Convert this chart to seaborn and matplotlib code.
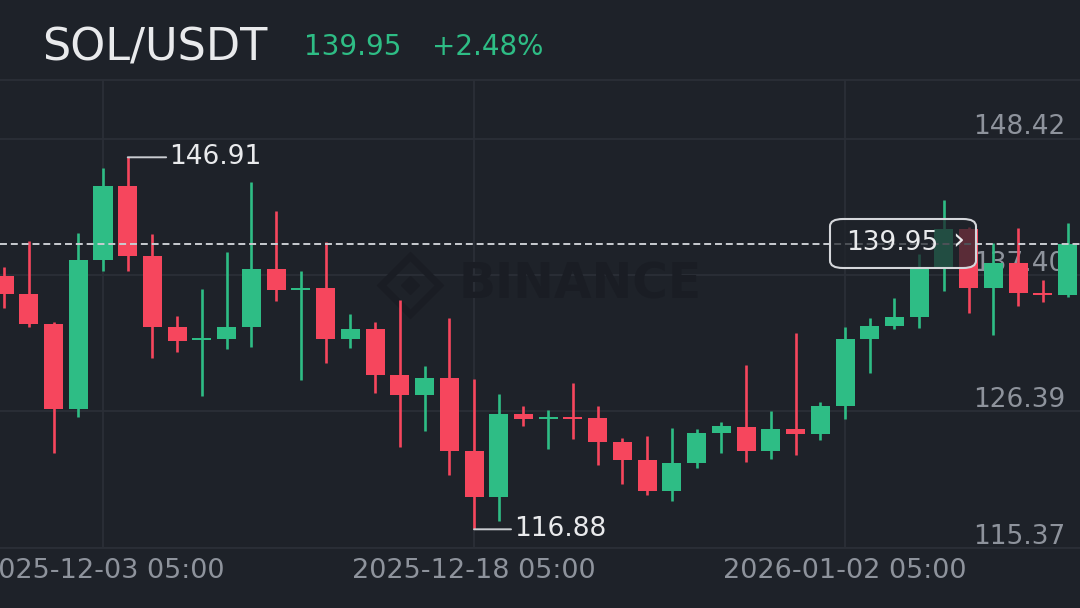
import matplotlib
matplotlib.use("Agg")
import numpy as np
import pandas as pd
import matplotlib.pyplot as plt
import matplotlib.dates as mdates
import matplotlib.transforms as mtransforms
from matplotlib.patches import FancyBboxPatch
import seaborn as sns

# ---------------- data ----------------
symbol = "SOL/USDT"
last_price = 139.95
change_text = "+2.48%"
high_price = 146.91
low_price = 116.88

dates = pd.date_range("2025-11-29 05:00", periods=44, freq="D")
opens = [137.33, 135.88, 133.45, 126.59, 138.62, 144.60, 138.94, 133.21, 132.20, 132.24,
         133.21, 137.90, 136.20, 136.36, 132.24, 133.05, 129.34, 127.72, 129.09, 123.20,
         119.49, 126.19, 125.80, 125.90, 125.87, 123.93, 122.47, 119.97, 122.23, 124.65,
         125.14, 123.20, 124.98, 124.57, 126.83, 132.24, 133.29, 134.02, 137.90, 141.12,
         136.36, 138.38, 135.96, 135.80]
highs = [138.06, 140.16, 133.62, 140.80, 146.05, 146.91, 140.72, 134.10, 136.28, 139.27,
         144.92, 142.58, 137.73, 140.07, 134.26, 133.62, 135.39, 130.06, 133.94, 129.01,
         127.80, 126.83, 126.51, 128.69, 126.83, 124.25, 124.41, 125.06, 124.98, 125.54,
         130.14, 126.43, 132.73, 127.16, 133.21, 133.94, 135.55, 139.11, 143.47, 141.29,
         139.99, 141.21, 137.01, 141.61]
lows = [134.75, 133.21, 123.04, 125.95, 137.73, 137.73, 130.71, 131.19, 127.64, 131.44,
        131.60, 135.31, 128.93, 130.31, 131.52, 127.88, 123.52, 124.82, 121.26, 116.88,
        117.55, 125.22, 123.36, 124.17, 122.07, 120.54, 119.65, 119.16, 121.83, 123.04,
        122.31, 122.56, 122.88, 124.09, 125.79, 129.50, 133.05, 133.13, 136.12, 134.34,
        132.57, 134.91, 135.23, 135.63]
closes = [135.88, 133.45, 126.59, 138.62, 144.60, 138.94, 133.21, 132.08, 132.32, 133.21,
          137.90, 136.20, 136.36, 132.24, 133.05, 129.34, 127.72, 129.09, 123.20, 119.49,
          126.19, 125.79, 125.90, 125.80, 123.93, 122.47, 119.97, 122.23, 124.65, 125.22,
          123.20, 124.98, 124.60, 126.83, 132.24, 133.29, 134.02, 137.98, 141.12, 136.36,
          138.38, 135.96, 135.80, 139.95]

price_ticks = [148.42, 137.40, 126.39, 115.37]
time_ticks = ["2025-12-03 05:00", "2025-12-18 05:00", "2026-01-02 05:00"]

df = pd.DataFrame({"date": dates, "open": opens, "high": highs, "low": lows, "close": closes})

# ---------------- style ----------------
BG = "#1e2229"
GRID = "#2b2f37"
GREEN = "#2ebd85"
RED = "#f6465d"
GRAY = "#8e939c"
WHITE = "#e9eaec"
WM = "#1a1d24"

sns.set_theme(style="dark", rc={
    "axes.facecolor": BG, "figure.facecolor": BG, "savefig.facecolor": BG,
    "axes.edgecolor": GRID, "grid.color": GRID, "lines.scale_dashes": False,
})
plt.rcParams["font.family"] = ["DejaVu Sans"]

fig = plt.figure(figsize=(10.8, 6.08), dpi=100)
ax = fig.add_axes([0, 1 - 548 / 608, 1, 468 / 608])

x = mdates.date2num(df["date"])
up = df["close"] >= df["open"]
colors = np.where(up, GREEN, RED)

body_lo = np.minimum(df["open"], df["close"])
body_hi = np.maximum(df["open"], df["close"])
min_h = 0.17
mid = (body_lo + body_hi) / 2
height = np.maximum(body_hi - body_lo, min_h)
bottom = np.where(body_hi - body_lo < min_h, mid - min_h / 2, body_lo)

ax.vlines(x, df["low"], df["high"], colors=colors, lw=1.9, zorder=3)
ax.bar(x, height, bottom=bottom, width=0.77, color=colors, linewidth=0, zorder=3)

# axes limits
x0 = mdates.date2num(pd.Timestamp("2025-12-03 05:00"))
ax.set_xlim(x0 - 4.165, x0 + 39.5)
ax.set_ylim(115.37, 153.15)

# grid
ax.set_yticks(price_ticks)
ax.set_yticklabels([])
tick_dates = [mdates.date2num(pd.Timestamp(t)) for t in time_ticks]
ax.set_xticks(tick_dates)
ax.set_xticklabels(time_ticks, color=GRAY, fontsize=19.5)
ax.tick_params(axis="x", length=0, pad=7.5)
ax.tick_params(axis="y", length=0)
ax.grid(True, color=GRID, lw=1.3, zorder=0)
ax.set_axisbelow(True)
for s in ["left", "right"]:
    ax.spines[s].set_visible(False)
for s in ["top", "bottom"]:
    ax.spines[s].set_visible(True)
    ax.spines[s].set_color(GRID)
    ax.spines[s].set_linewidth(1.3)

# price labels inside plot, right side
blend = mtransforms.blended_transform_factory(ax.transAxes, ax.transData)
for p in price_ticks:
    ax.annotate(f"{p:.2f}", xy=(1, p), xycoords=blend, xytext=(-10.8, 3),
                textcoords="offset points", ha="right", va="baseline",
                color=GRAY, fontsize=19, zorder=1)

# watermark
ax.text(0.537, 0.562, "BINANCE", transform=ax.transAxes, ha="center", va="center",
        fontsize=35, fontweight="bold", color=WM, zorder=1)
ax.plot([0.38], [0.562], transform=ax.transAxes, marker="D", markersize=30,
        markerfacecolor="none", markeredgecolor=WM, markeredgewidth=5, zorder=1)
ax.plot([0.38], [0.562], transform=ax.transAxes, marker="D", markersize=9,
        markerfacecolor=WM, markeredgecolor=WM, zorder=1)

# last price dashed line
ax.axhline(last_price, color="#c9ccd1", lw=1.4, dashes=(5, 2.8), zorder=4)

# high / low annotations
i_hi = int(np.argmax(df["high"]))
i_lo = int(np.argmin(df["low"]))
ax.annotate(f"{high_price:.2f}", xy=(x[i_hi], high_price), xytext=(30, 0),
            textcoords="offset points", ha="left", va="center", color=WHITE, fontsize=19,
            arrowprops=dict(arrowstyle="-", color="#c9ccd1", lw=1.4, shrinkA=0, shrinkB=0,
                            relpos=(0, 0.5)), zorder=5)
ax.annotate(f"{low_price:.2f}", xy=(x[i_lo], low_price), xytext=(29, 0),
            textcoords="offset points", ha="left", va="center", color=WHITE, fontsize=19,
            arrowprops=dict(arrowstyle="-", color="#c9ccd1", lw=1.4, shrinkA=0, shrinkB=0,
                            relpos=(0, 0.5)), zorder=5)

# current price label box
box = FancyBboxPatch((830 / 1080, 1 - 268 / 608), 146 / 1080, 49 / 608,
                     boxstyle="round,pad=0,rounding_size=0.012",
                     transform=fig.transFigure,
                     edgecolor="#d5d7db", linewidth=1.5, zorder=5)
box.set_facecolor((0.118, 0.133, 0.161, 0.72))
fig.patches.append(box)
fig.text(846 / 1080, 1 - 243 / 608, f"{last_price:.2f}", ha="left", va="center",
         color=WHITE, fontsize=19, zorder=6)
fig.text(958 / 1080, 1 - 241 / 608, "›", ha="center", va="center",
         color=WHITE, fontsize=22, zorder=6)

# header
fig.text(42 / 1080, 1 - 61 / 608, symbol, ha="left", va="baseline", color=WHITE, fontsize=32)
fig.text(304 / 1080, 1 - 55 / 608, f"{last_price:.2f}", ha="left", va="baseline",
         color=GREEN, fontsize=20)
fig.text(432 / 1080, 1 - 55 / 608, change_text, ha="left", va="baseline",
         color=GREEN, fontsize=20)

fig.savefig("out.png", dpi=100, facecolor=BG)
